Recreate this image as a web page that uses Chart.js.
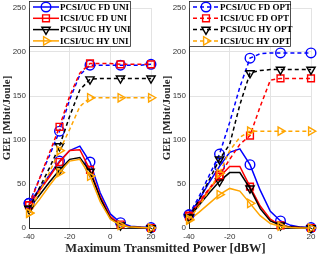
<!DOCTYPE html>
<html>
<head>
<meta charset="utf-8">
<script src="https://cdn.jsdelivr.net/npm/chart.js@4/dist/chart.umd.min.js"></script>
<style>
  body { margin: 0; background: #fff; }
  #wrap { position: relative; width: 321px; height: 257px; overflow: hidden; }
  .panel { position: absolute; top: 0; width: 160px; height: 257px; }
  #xtitle {
    position: absolute; left: 5px; width: 321px; top: 241px; text-align: center;
    font: bold 12.5px "Liberation Serif", serif; color: #262626; line-height: 15px;
  }
</style>
</head>
<body>
<div id="wrap">
  <div class="panel" style="left:0"><canvas id="uniChart" width="160" height="257"></canvas></div>
  <div class="panel" style="left:160px"><canvas id="optChart" width="160" height="257"></canvas></div>
  <div id="xtitle">Maximum Transmitted Power [dBW]</div>
</div>
<script>
// x axis: maximum transmitted power [dBW], markers every 15 dB
const powerDbw = [-40, -35, -30, -25, -20, -15, -10, -5, 0, 5, 10, 15, 20];
const markerIdx = [0, 3, 6, 9, 12];
const xTicks = [-40, -20, 0, 20];
const yTicks = [0, 50, 100, 150, 200, 250];

const seriesNames = ["PCSI/UC FD", "ICSI/UC FD", "PCSI/UC HY", "ICSI/UC HY"];

// left panel (UNI) - solid lines are in the legend
const uniSolidPcsiFd = [28, 44, 60, 76, 88, 93, 75, 40, 16, 6, 2, 1, 0.5];
const uniSolidIcsiFd = [26, 42, 58, 75, 88, 89, 66, 36, 13, 4, 1, 0.5, 0];
const uniSolidPcsiHy = [22, 37, 52, 66, 78, 80, 64, 34, 11, 3, 1, 0.5, 0];
const uniSolidIcsiHy = [17, 32, 48, 63, 76, 78, 59, 30, 10, 3, 1, 0.5, 0];
const uniDashPcsiFd = [28, 55, 82, 110, 146, 174, 185, 185, 185, 185, 185, 185, 186];
const uniDashIcsiFd = [26, 55, 85, 115, 150, 176, 187, 187, 187, 186, 186, 186, 186];
const uniDashPcsiHy = [22, 45, 68, 93, 127, 157, 169, 170, 170, 170, 170, 170, 170];
const uniDashIcsiHy = [17, 40, 63, 88, 112, 138, 148, 148, 148, 148, 148, 148, 148];

// right panel (OPT) - dashed lines are in the legend
const optDashPcsiFd = [15, 36, 60, 84, 120, 160, 193, 198, 199, 199, 199, 199, 199];
const optDashIcsiFd = [14, 30, 45, 60, 78, 95, 105, 138, 168, 170, 170, 170, 170];
const optDashPcsiHy = [12, 32, 55, 78, 95, 140, 176, 179, 180, 180, 180, 180, 180];
const optDashIcsiHy = [10, 25, 43, 62, 88, 103, 110, 110, 110, 110, 110, 110, 110];
const optSolidPcsiFd = [15, 32, 52, 70, 86, 90, 72, 43, 19, 8, 3, 1, 0.5];
const optSolidIcsiFd = [13, 28, 44, 58, 70, 70, 47, 25, 10, 3, 1, 0.5, 0];
const optSolidPcsiHy = [12, 26, 40, 53, 63, 63, 45, 22, 8, 3, 1, 0.5, 0];
const optSolidIcsiHy = [9, 18, 28, 38, 45, 42, 28, 14, 5, 2, 0.5, 0, 0];

const colors = ["#0000ff", "#ff0000", "#000000", "#ffa500"];
const markers = [
  { style: "circle", rot: 0 },
  { style: "rect", rot: 0 },
  { style: "triangle", rot: 180 },
  { style: "triangle", rot: 90 },
];
const serif = '"Liberation Serif", "Times New Roman", serif';
const sans = '"Liberation Sans", Arial, sans-serif';

function makeDataset(values, i, dashed) {
  return {
    data: values.map((v, k) => ({ x: powerDbw[k], y: v })),
    borderColor: colors[i],
    borderWidth: 1.5,
    borderDash: dashed ? [4, 3] : [],
    pointStyle: markers[i].style,
    rotation: markers[i].rot,
    pointRadius: powerDbw.map((_, k) => (markerIdx.includes(k) ? 4.8 : 0)),
    pointBorderWidth: 1.4,
    pointBorderColor: colors[i],
    pointBackgroundColor: "rgba(0,0,0,0)",
    tension: 0,
    clip: false,
  };
}

// legend box drawn by hand so it shows line + marker like the original
const boxLegend = {
  id: "boxLegend",
  afterDraw(chart, args, opts) {
    const ctx = chart.ctx;
    const x0 = 29.5, y0 = 1.5, w = 101, h = 45;
    ctx.save();
    ctx.fillStyle = "#fff";
    ctx.fillRect(x0, y0, w, h);
    ctx.strokeStyle = "#262626";
    ctx.lineWidth = 0.8;
    ctx.strokeRect(x0, y0, w, h);
    seriesNames.forEach((name, i) => {
      const cy = 7 + i * 11.3;
      ctx.strokeStyle = colors[i];
      ctx.lineWidth = 1.5;
      ctx.setLineDash(opts.dashed ? [4, 3] : []);
      ctx.beginPath();
      ctx.moveTo(33, cy);
      ctx.lineTo(59, cy);
      ctx.stroke();
      ctx.setLineDash([]);
      ctx.lineWidth = 1.4;
      ctx.fillStyle = "rgba(0,0,0,0)";
      Chart.helpers.drawPoint(ctx, {
        pointStyle: markers[i].style, rotation: markers[i].rot,
        radius: 4.8, borderWidth: 1.4,
      }, 46, cy);
      ctx.fillStyle = "#000";
      ctx.font = "bold 9px " + serif;
      ctx.textBaseline = "middle";
      ctx.fillText(name + " " + opts.tag, 60, cy + 0.5);
    });
    ctx.restore();
  },
};

function makeChart(id, solidSets, dashSets, tag, legendDashed) {
  const datasets = [];
  solidSets.forEach((s, i) => datasets.push(makeDataset(s, i, false)));
  dashSets.forEach((s, i) => datasets.push(makeDataset(s, i, true)));
  datasets.reverse(); // first dataset ends up on top

  return new Chart(document.getElementById(id), {
    type: "line",
    data: { datasets },
    plugins: [boxLegend],
    options: {
      responsive: false,
      animation: false,
      events: [],
      layout: { padding: { top: 8, right: 9, left: 0, bottom: 0 } },
      plugins: {
        legend: { display: false },
        tooltip: { enabled: false },
        boxLegend: { tag, dashed: legendDashed },
      },
      scales: {
        x: {
          type: "linear",
          min: -40, max: 20,
          afterBuildTicks: (s) => { s.ticks = xTicks.map((v) => ({ value: v })); },
          afterFit: (s) => { s.height = 29; },
          grid: { color: "#e3e3e3", drawTicks: false },
          border: { color: "#262626", width: 1 },
          ticks: { color: "#333", font: { family: sans, size: 8 }, padding: 4 },
        },
        y: {
          min: 0, max: 250,
          afterBuildTicks: (s) => { s.ticks = yTicks.map((v) => ({ value: v })); },
          afterFit: (s) => { s.width = 29; },
          grid: { color: "#e3e3e3", drawTicks: false },
          border: { color: "#262626", width: 1 },
          ticks: { color: "#333", font: { family: sans, size: 8 }, padding: 3 },
          title: {
            display: true, text: "GEE [Mbit/Joule]", color: "#262626",
            font: { family: serif, size: 11, weight: "bold" }, padding: { top: 1, bottom: 0 },
          },
        },
      },
    },
  });
}

makeChart("uniChart",
  [uniSolidPcsiFd, uniSolidIcsiFd, uniSolidPcsiHy, uniSolidIcsiHy],
  [uniDashPcsiFd, uniDashIcsiFd, uniDashPcsiHy, uniDashIcsiHy],
  "UNI", false);

makeChart("optChart",
  [optSolidPcsiFd, optSolidIcsiFd, optSolidPcsiHy, optSolidIcsiHy],
  [optDashPcsiFd, optDashIcsiFd, optDashPcsiHy, optDashIcsiHy],
  "OPT", true);
</script>
</body>
</html>
